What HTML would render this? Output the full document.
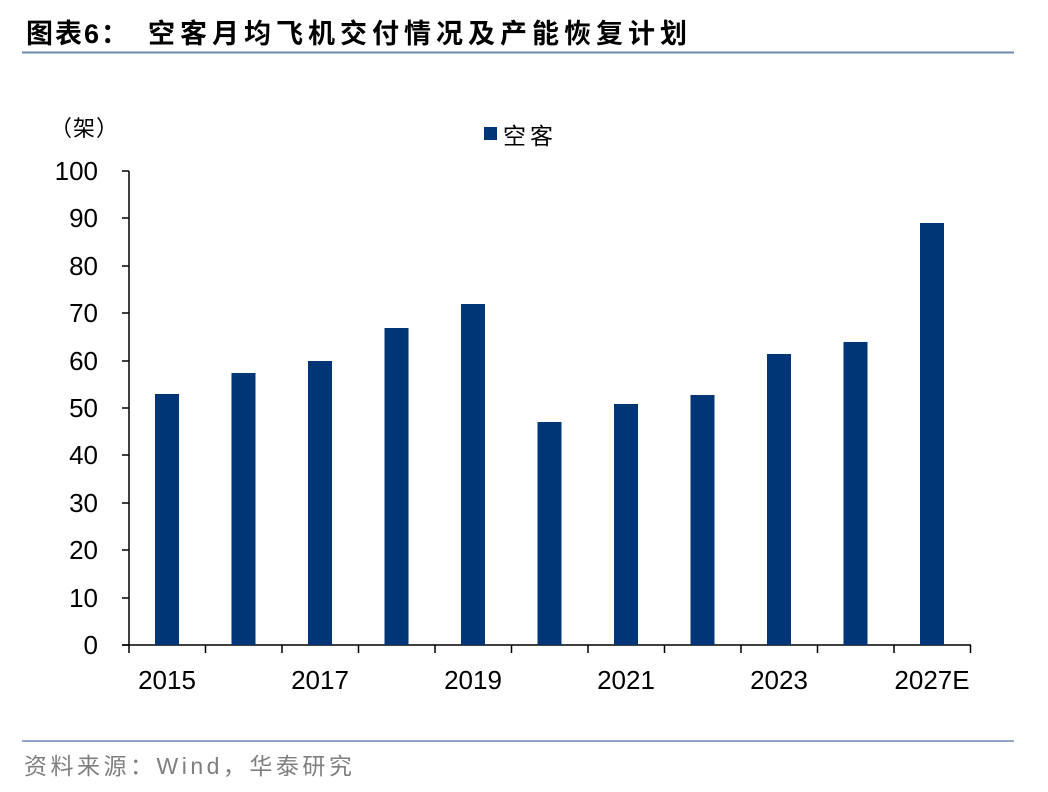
<!DOCTYPE html>
<html><head><meta charset="utf-8"><style>
body{margin:0;background:#fff;}
svg{display:block;}
</style></head><body>
<svg width="1048" height="792" xmlns="http://www.w3.org/2000/svg">
<text x="26" y="43" font-family="'Liberation Sans','Noto Sans CJK SC',sans-serif" font-size="27" font-weight="bold" fill="#000" letter-spacing="2">图表6：</text>
<text x="148" y="43" font-family="'Liberation Sans','Noto Sans CJK SC',sans-serif" font-size="27" font-weight="bold" fill="#000" letter-spacing="5">空客月均飞机交付情况及产能恢复计划</text>
<line x1="22" y1="52.5" x2="1014" y2="52.5" stroke="#6a89b4" stroke-width="2"/>
<text x="50" y="136" font-family="'Liberation Sans','Noto Sans CJK SC',sans-serif" font-size="22" fill="#000" letter-spacing="1">（架）</text>
<rect x="484" y="127" width="13" height="13" fill="#003676"/>
<text x="503" y="144" font-family="'Liberation Sans','Noto Sans CJK SC',sans-serif" font-size="23" fill="#000" letter-spacing="4">空客</text>
<g font-family="'Liberation Sans',sans-serif" font-size="26" fill="#000" text-anchor="end">
<text x="98" y="180">100</text><text x="98" y="227">90</text><text x="98" y="275">80</text><text x="98" y="322">70</text><text x="98" y="370">60</text><text x="98" y="417">50</text><text x="98" y="464">40</text><text x="98" y="512">30</text><text x="98" y="559">20</text><text x="98" y="607">10</text><text x="98" y="654">0</text>
</g>
<g stroke="#000" stroke-width="1.5">
<line x1="129" y1="171" x2="129" y2="653"/>
<line x1="122" y1="171" x2="129" y2="171"/><line x1="122" y1="218" x2="129" y2="218"/><line x1="122" y1="266" x2="129" y2="266"/><line x1="122" y1="313" x2="129" y2="313"/><line x1="122" y1="361" x2="129" y2="361"/><line x1="122" y1="408" x2="129" y2="408"/><line x1="122" y1="455" x2="129" y2="455"/><line x1="122" y1="503" x2="129" y2="503"/><line x1="122" y1="550" x2="129" y2="550"/><line x1="122" y1="598" x2="129" y2="598"/><line x1="122" y1="645" x2="129" y2="645"/>
<line x1="122" y1="645" x2="971" y2="645"/>
<line x1="205.5" y1="645" x2="205.5" y2="653"/><line x1="282" y1="645" x2="282" y2="653"/><line x1="358.5" y1="645" x2="358.5" y2="653"/><line x1="435" y1="645" x2="435" y2="653"/><line x1="511.5" y1="645" x2="511.5" y2="653"/><line x1="588" y1="645" x2="588" y2="653"/><line x1="664.5" y1="645" x2="664.5" y2="653"/><line x1="741" y1="645" x2="741" y2="653"/><line x1="817.5" y1="645" x2="817.5" y2="653"/><line x1="894" y1="645" x2="894" y2="653"/><line x1="970.5" y1="645" x2="970.5" y2="653"/>
</g>
<g fill="#003676">
<rect x="155" y="394" width="24" height="251"/>
<rect x="231.5" y="373" width="24" height="272"/>
<rect x="308" y="361" width="24" height="284"/>
<rect x="384.5" y="328" width="24" height="317"/>
<rect x="461" y="304" width="24" height="341"/>
<rect x="537.5" y="422" width="24" height="223"/>
<rect x="614" y="404" width="24" height="241"/>
<rect x="690.5" y="395" width="24" height="250"/>
<rect x="767" y="354" width="24" height="291"/>
<rect x="843.5" y="342" width="24" height="303"/>
<rect x="920" y="223" width="24" height="422"/>
</g>
<g font-family="'Liberation Sans',sans-serif" font-size="26" fill="#000" text-anchor="middle">
<text x="167" y="689">2015</text><text x="320" y="689">2017</text><text x="473" y="689">2019</text><text x="626" y="689">2021</text><text x="779" y="689">2023</text><text x="932" y="689">2027E</text>
</g>
<line x1="22" y1="741" x2="1014" y2="741" stroke="#6a89b4" stroke-width="1.5"/>
<text x="24" y="774" font-family="'Liberation Sans','Noto Sans CJK SC',sans-serif" font-size="23" fill="#7f7f7f" letter-spacing="3.5">资料来源：Wind，华泰研究</text>
</svg>
</body></html>
